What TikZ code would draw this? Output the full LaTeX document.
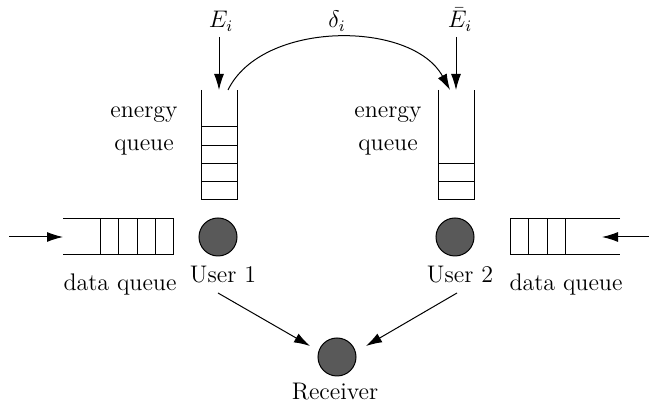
\documentclass[tikz,border=0pt]{standalone}
\usetikzlibrary{arrows.meta}
\begin{document}
\begin{tikzpicture}[x=0.5pt,y=-0.5pt,line width=0.5pt,
  arr/.style={-{Latex[length=8pt,width=5pt]}},
  user/.style={circle,draw,fill=black!65,minimum size=19pt,inner sep=0pt},
  lbl/.style={anchor=base,font=\large,inner sep=0pt}]
\useasboundingbox (0,0) rectangle (649,405);
% users and receiver
\node[user] (u1) at (218,237) {};
\node[user] (u2) at (455,237) {};
\node[user] (rx) at (337,357) {};
\node[lbl] (u1l) at (223,283) {User 1};
\node[lbl] (u2l) at (460,283) {User 2};
\node[lbl] (rxl) at (335,400) {Receiver};
% energy queues
\draw (201,90) -- (201,200) -- (237,200) -- (237,90);
\foreach \y in {127,145.5,164,182} \draw (201,\y) -- (237,\y);
\draw (438,90) -- (438,200) -- (474,200) -- (474,90);
\foreach \y in {164,182} \draw (438,\y) -- (474,\y);
\node[lbl] (eq1a) at (144,118) {energy};
\node[lbl] (eq1b) at (144,151) {queue};
\node[lbl] (eq2a) at (388,118) {energy};
\node[lbl] (eq2b) at (388,151) {queue};
% data queues
\draw (63,219) -- (173,219) -- (173,255) -- (63,255);
\foreach \x in {100,118,137,155} \draw (\x,219) -- (\x,255);
\draw (620,219) -- (510,219) -- (510,255) -- (620,255);
\foreach \x in {528,547,565} \draw (\x,219) -- (\x,255);
\node[lbl] (dq1) at (120,291) {data queue};
\node[lbl] (dq2) at (566,291) {data queue};
% energy arrivals
\node[lbl] (E1) at (221,28) {$E_i$};
\node[lbl] (E2) at (460,28) {$\bar{E}_i$};
\node[lbl] (d) at (337,28) {$\delta_i$};
\coordinate (e1s) at (219,37);
\coordinate (e1e) at (219,90);
\coordinate (e2s) at (456,37);
\coordinate (e2e) at (456,90);
\draw[arr] (e1s) -- (e1e);
\draw[arr] (e2s) -- (e2e);
\coordinate (ts) at (228,90);
\coordinate (te) at (450,90);
\draw[arr] (ts) .. controls (262,20) and (412,20) .. (te);
% data arrivals
\coordinate (d1s) at (9,237);
\coordinate (d1e) at (63,237);
\coordinate (d2s) at (649,237);
\coordinate (d2e) at (602,237);
\draw[arr] (d1s) -- (d1e);
\draw[arr] (d2s) -- (d2e);
% links to receiver
\coordinate (l1s) at (218,293);
\coordinate (l1e) at (310,346);
\coordinate (l2s) at (457,293);
\coordinate (l2e) at (366,346);
\draw[arr] (l1s) -- (l1e);
\draw[arr] (l2s) -- (l2e);
\end{tikzpicture}
\end{document}
